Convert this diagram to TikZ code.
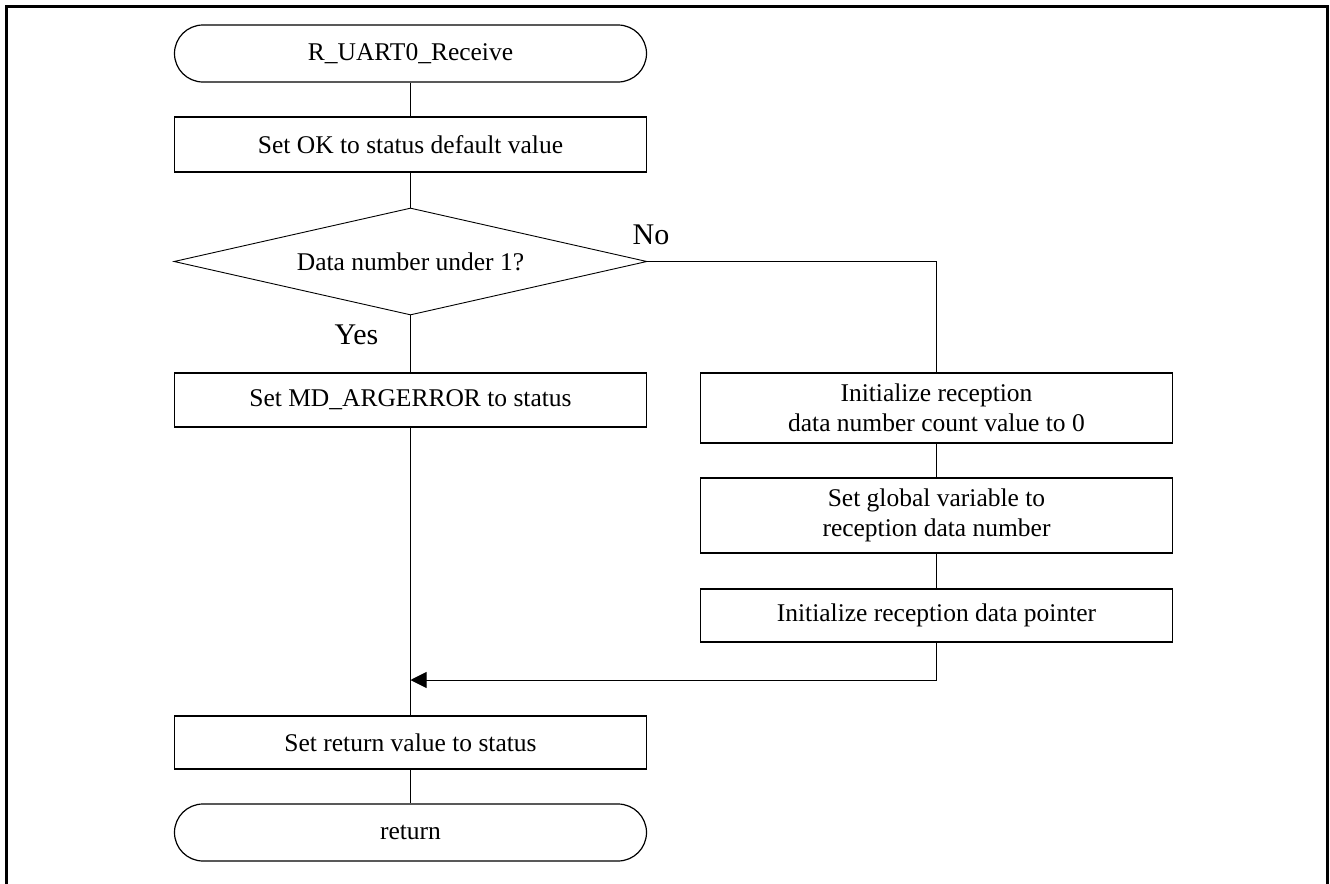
\documentclass[tikz,border=0pt]{standalone}
\usepackage{fontspec}
\setmainfont{Liberation Serif}
\usetikzlibrary{shapes.geometric,arrows.meta}
\begin{document}
\begin{tikzpicture}[x=0.5pt,y=-0.5pt,
  every node/.style={font=\fontsize{12.75pt}{15pt}\selectfont},
  term/.style={draw,line width=0.6pt,rounded corners=14.25pt,minimum width=236pt,minimum height=28.5pt,inner sep=0pt},
  proc/.style={draw,line width=0.75pt,minimum width=236pt,inner sep=0pt,align=center},
  dec/.style={draw,diamond,shape aspect=4.42,line width=0.45pt,minimum width=236.5pt,minimum height=53.5pt,inner sep=0pt},
  lbl/.style={font=\fontsize{15pt}{18pt}\selectfont,inner sep=0pt},
  lconn/.style={line width=0.65pt},
  rconn/.style={line width=0.45pt}]
\useasboundingbox (0,0) rectangle (1330,884);
\fill[white] (0,0) rectangle (1330,884);
\draw[line width=1.5pt] (6.5,884) -- (6.5,6) -- (1327.5,6) -- (1327.5,884);
% left column
\node[term] (t1) at (410.5,53.5) {R\_UART0\_Receive};
\node[proc,minimum height=27.5pt] (b1) at (410.5,144.5) {Set OK to status default value};
\node[dec] (d) at (410.5,261.5) {Data number under 1?};
\node[lbl] (yes) at (356.5,335) {Yes};
\node[lbl] (no) at (651,235) {No};
\node[proc,minimum height=27pt] (b2) at (410.5,400) {Set MD\_ARGERROR to status};
\coordinate (m) at (410.5,680);
\node[proc,minimum height=26.5pt] (b3) at (410.5,742.5) {Set return value to status};
\node[term] (t2) at (410.5,832.5) {return};
% right column
\node[proc,minimum height=35pt] (r1) at (936.5,408) {Initialize reception\\data number count value to 0};
\node[proc,minimum height=37.5pt] (r2) at (936.5,515.5) {Set global variable to\\reception data number};
\node[proc,minimum height=26.5pt] (r3) at (936.5,615.5) {Initialize reception data pointer};
% connectors
\draw[lconn] (t1) -- (b1);
\draw[lconn] (b1) -- (d);
\draw[lconn] (d.south) -- (b2.north);
\draw[lconn] (b2.south) -- (b3.north);
\draw[lconn] (b3) -- (t2);
\draw[rconn] (d.east) -| (r1.north);
\draw[rconn] (r1) -- (r2);
\draw[rconn] (r2) -- (r3);
\draw[rconn,-{Triangle[length=8pt,width=8pt]}] (r3.south) |- (m);
\end{tikzpicture}
\end{document}
